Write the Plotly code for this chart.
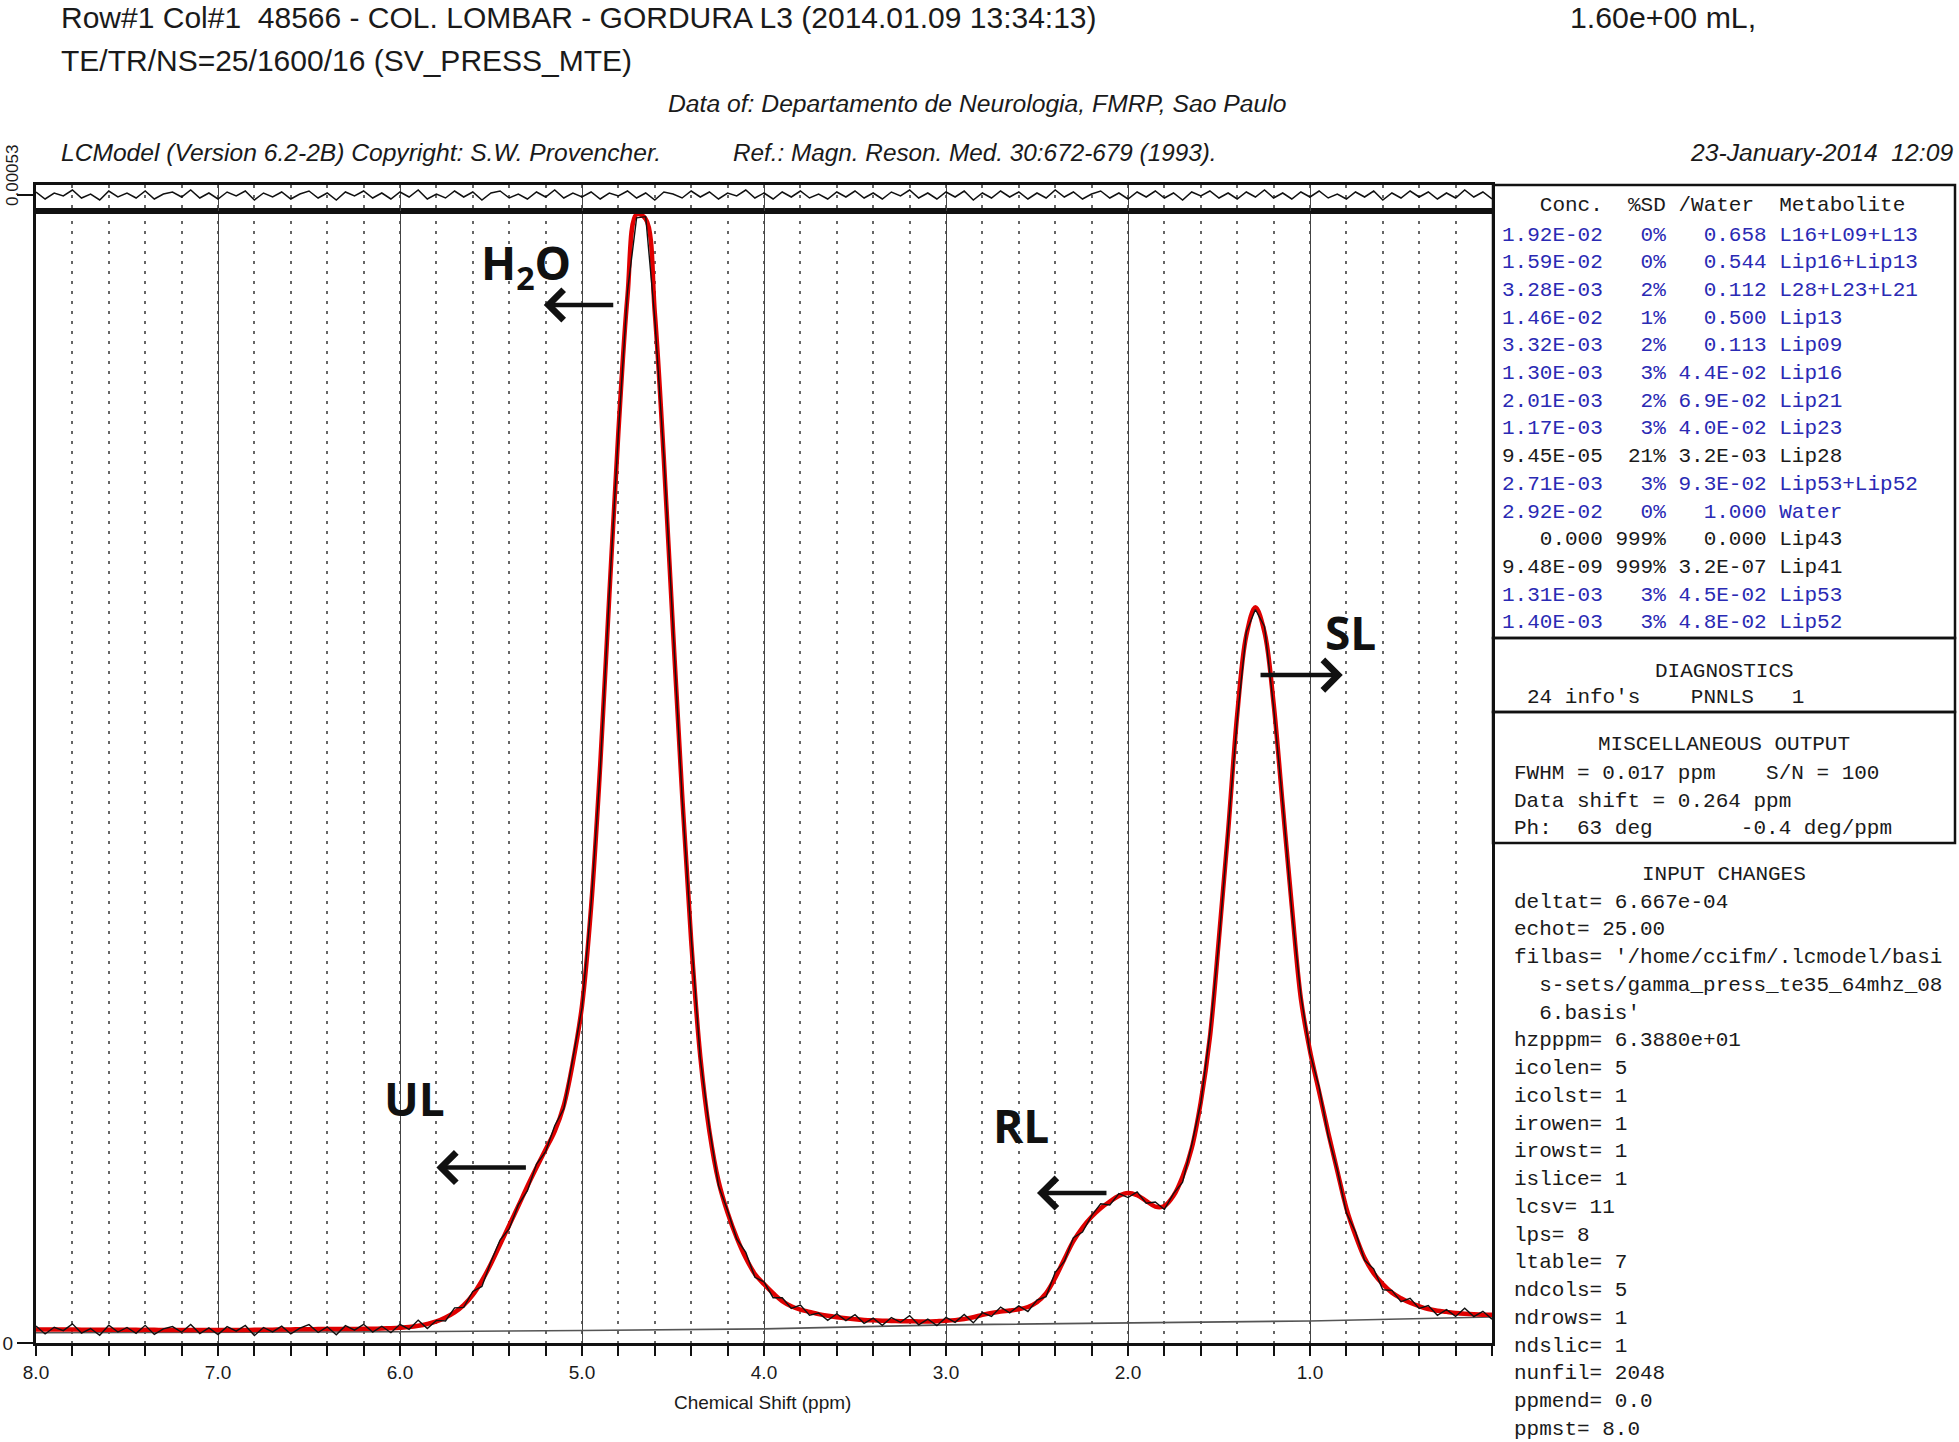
import numpy as np
import plotly.graph_objects as go

# ---------------- data ----------------
# fitted spectrum sampled every 0.05 ppm from 8.00 down to 0.00
fit_vals = [
    0.0120, 0.0120, 0.0119, 0.0119, 0.0119, 0.0118, 0.0118, 0.0118, 0.0117, 0.0117,
    0.0117, 0.0116, 0.0116, 0.0116, 0.0115, 0.0115, 0.0115, 0.0114, 0.0114, 0.0114,
    0.0114, 0.0114, 0.0115, 0.0115, 0.0116, 0.0117, 0.0118, 0.0119, 0.0120, 0.0121,
    0.0122, 0.0123, 0.0123, 0.0123, 0.0123, 0.0124, 0.0125, 0.0126, 0.0128, 0.0131,
    0.0135, 0.0141, 0.0152, 0.0168, 0.0190, 0.0225, 0.0270, 0.0335, 0.0425, 0.0550,
    0.0700, 0.0870, 0.1040, 0.1210, 0.1385, 0.1550, 0.1710, 0.1870, 0.2100, 0.2480,
    0.2980, 0.3850, 0.5100, 0.6600, 0.8050, 0.9250, 0.9970, 0.9930, 0.9100, 0.7800,
    0.6300, 0.4850, 0.3550, 0.2530, 0.1870, 0.1430, 0.1150, 0.0930, 0.0750, 0.0610,
    0.0520, 0.0440, 0.0370, 0.0325, 0.0295, 0.0275, 0.0255, 0.0240, 0.0228, 0.0218,
    0.0210, 0.0204, 0.0200, 0.0197, 0.0195, 0.0193, 0.0192, 0.0191, 0.0191, 0.0193,
    0.0196, 0.0202, 0.0212, 0.0228, 0.0248, 0.0265, 0.0277, 0.0287, 0.0298, 0.0318,
    0.0360, 0.0440, 0.0575, 0.0740, 0.0900, 0.1020, 0.1115, 0.1190, 0.1250, 0.1300,
    0.1325, 0.1305, 0.1255, 0.1205, 0.1210, 0.1300, 0.1470, 0.1720, 0.2130, 0.2700,
    0.3580, 0.4520, 0.5550, 0.6250, 0.6500, 0.6280, 0.5650, 0.4750, 0.3860, 0.3040,
    0.2580, 0.2220, 0.1860, 0.1520, 0.1190, 0.0950, 0.0750, 0.0615, 0.0520, 0.0445,
    0.0395, 0.0355, 0.0325, 0.0300, 0.0285, 0.0275, 0.0265, 0.0258, 0.0253, 0.0250,
    0.0250,
]
# residual (data - fit) on the same grid
resid_vals = [
    0.003, -0.004, 0.002, -0.001, 0.005, -0.003, 0.001, -0.005, 0.004, -0.002,
    0.002, -0.003, 0.004, -0.004, 0.001, 0.003, -0.002, 0.005, -0.003, 0.002,
    -0.004, 0.003, -0.001, 0.004, -0.005, 0.002, -0.002, 0.003, -0.004, 0.001,
    0.004, -0.003, 0.002, -0.005, 0.003, -0.001, 0.004, -0.003, 0.002, -0.004,
    0.003, -0.002, 0.005, -0.004, 0.001, -0.003, 0.004, -0.002, 0.003, -0.005,
    0.002, 0.004, -0.003, 0.001, -0.004, 0.003, -0.002, 0.005, -0.003, 0.002,
    -0.002, 0.003, -0.004, 0.002, -0.001, 0.004, -0.003, 0.002, -0.005, 0.003,
    0.001, -0.003, 0.004, -0.002, 0.003, -0.004, 0.002, -0.001, 0.005, -0.003,
    0.002, -0.004, 0.003, -0.002, 0.004, -0.003, 0.001, -0.004, 0.003, -0.002,
    0.004, -0.003, 0.002, -0.004, 0.003, -0.001, 0.005, -0.003, 0.002, -0.004,
    0.003, -0.002, 0.004, -0.005, 0.002, -0.003, 0.004, -0.002, 0.003, -0.004,
    0.002, -0.003, 0.005, -0.002, 0.003, -0.004, 0.001, 0.004, -0.003, 0.002,
    -0.004, 0.003, -0.002, 0.004, -0.003, 0.002, -0.005, 0.003, -0.001, 0.004,
    -0.003, 0.002, -0.004, 0.003, -0.002, 0.005, -0.003, 0.002, -0.004, 0.003,
    -0.002, 0.004, -0.003, 0.001, -0.004, 0.003, -0.002, 0.004, -0.005, 0.002,
    -0.003, 0.004, -0.002, 0.003, -0.004, 0.002, -0.003, 0.005, -0.002, 0.003,
    -0.004,
]
baseline_ppm = [8.0, 7.0, 6.0, 5.0, 4.0, 3.0, 2.0, 1.0, 0.0]
baseline_vals = [0.0090, 0.0093, 0.0100, 0.0110, 0.0125, 0.0160, 0.0180, 0.0195, 0.0230]

ppm = np.linspace(8.0, 0.0, len(fit_vals))
fit = np.array(fit_vals)
resid = np.array(resid_vals)
data = fit + resid

x_tick_vals = [8, 7, 6, 5, 4, 3, 2, 1]
x_tick_text = ["8.0", "7.0", "6.0", "5.0", "4.0", "3.0", "2.0", "1.0"]

conc = ["1.92E-02", "1.59E-02", "3.28E-03", "1.46E-02", "3.32E-03", "1.30E-03", "2.01E-03",
        "1.17E-03", "9.45E-05", "2.71E-03", "2.92E-02", "0.000", "9.48E-09", "1.31E-03", "1.40E-03"]
sd_pct = [0, 0, 2, 1, 2, 3, 2, 3, 21, 3, 0, 999, 999, 3, 3]
ratio = ["0.658", "0.544", "0.112", "0.500", "0.113", "4.4E-02", "6.9E-02", "4.0E-02",
         "3.2E-03", "9.3E-02", "1.000", "0.000", "3.2E-07", "4.5E-02", "4.8E-02"]
metab = ["L16+L09+L13", "Lip16+Lip13", "L28+L23+L21", "Lip13", "Lip09", "Lip16", "Lip21",
         "Lip23", "Lip28", "Lip53+Lip52", "Water", "Lip43", "Lip41", "Lip53", "Lip52"]

input_lines = ["deltat= 6.667e-04", "echot= 25.00", "filbas= '/home/ccifm/.lcmodel/basi",
               "  s-sets/gamma_press_te35_64mhz_08", "  6.basis'", "hzpppm= 6.3880e+01",
               "icolen= 5", "icolst= 1", "irowen= 1", "irowst= 1", "islice= 1", "lcsv= 11",
               "lps= 8", "ltable= 7", "ndcols= 5", "ndrows= 1", "ndslic= 1", "nunfil= 2048",
               "ppmend= 0.0", "ppmst= 8.0"]

# ---------------- layout helpers ----------------
W, H = 1959, 1442
def px(x):
    return x / W
def py(y):
    return 1 - y / H

NARROW = "Liberation Sans Narrow, Liberation Sans, Arial Narrow, Arial, sans-serif"
MONO = "Liberation Mono, Courier New, monospace"
LBL = "Open Sans, Lato, sans-serif"
BLUE = "#2a2ab4"
INK = "#1a1a1a"

def nb(s):
    return s.replace(" ", "\u00a0")

fig = go.Figure()

fig.add_trace(go.Scatter(x=ppm, y=resid, xaxis="x2", yaxis="y2", mode="lines",
                         line=dict(color="#111", width=1.5), hoverinfo="skip"))
fig.add_trace(go.Scatter(x=baseline_ppm, y=baseline_vals, mode="lines",
                         line=dict(color="#555", width=1.6), hoverinfo="skip"))
fig.add_trace(go.Scatter(x=ppm, y=fit, mode="lines",
                         line=dict(color="#e00000", width=4.5, shape="spline"), hoverinfo="skip"))
fig.add_trace(go.Scatter(x=ppm, y=data, mode="lines",
                         line=dict(color="#111", width=1.4), hoverinfo="skip"))

grid_minor = dict(tickmode="linear", tick0=0, dtick=0.2, ticks="outside", ticklen=10,
                  tickwidth=1.8, tickcolor="#111", showgrid=True, griddash="3px,7px",
                  gridcolor="#666", gridwidth=1.6)

fig.update_layout(
    width=W, height=H, margin=dict(l=0, r=0, t=0, b=0, pad=0, autoexpand=False),
    paper_bgcolor="white", plot_bgcolor="white", showlegend=False,
    xaxis=dict(domain=[px(36), px(1492)], range=[8, 0], anchor="y", automargin=False,
               tickmode="array", tickvals=x_tick_vals, ticktext=x_tick_text,
               ticks="outside", ticklen=10, tickwidth=2, tickcolor="#111",
               tickfont=dict(family=NARROW, size=19, color=INK),
               showline=True, linewidth=3, linecolor="#111", mirror=True,
               showgrid=True, gridcolor="#444", gridwidth=1.2, zeroline=False,
               minor=grid_minor),
    yaxis=dict(domain=[py(1343), py(211)], range=[0, 1.0], anchor="x", automargin=False,
               tickmode="array", tickvals=[0], ticktext=["0"],
               ticks="outside", ticklen=16, tickwidth=2, tickcolor="#111",
               tickfont=dict(family=NARROW, size=19, color=INK),
               showline=True, linewidth=3, linecolor="#111", mirror=True,
               showgrid=False, zeroline=False),
    xaxis2=dict(domain=[px(36), px(1492)], range=[8, 0], anchor="y2", matches="x",
                automargin=False, showticklabels=False, ticks="",
                showline=True, linewidth=3, linecolor="#111", mirror=True,
                showgrid=True, gridcolor="#444", gridwidth=1.2, zeroline=False,
                tickmode="array", tickvals=x_tick_vals,
                minor=dict(tickmode="linear", tick0=0, dtick=0.2, ticks="", showgrid=True,
                           griddash="3px,7px", gridcolor="#666", gridwidth=1.6)),
    yaxis2=dict(domain=[py(211), py(185)], range=[-0.016, 0.010], anchor="x2",
                automargin=False, tickmode="array", tickvals=[0], showticklabels=False,
                ticks="outside", ticklen=16, tickwidth=2, tickcolor="#111",
                showline=True, linewidth=3, linecolor="#111", mirror=True,
                showgrid=False, zeroline=False),
)

ann = []
def text(x, y, s, size, family=NARROW, color=INK, xanchor="left", **kw):
    ann.append(dict(x=px(x), y=py(y), xref="paper", yref="paper", text=s, showarrow=False,
                    xanchor=xanchor, yanchor="middle",
                    font=dict(family=family, size=size, color=color), **kw))

# header
text(59, 18, "Row#1 Col#1  48566 - COL. LOMBAR - GORDURA L3 (2014.01.09 13:34:13)", 30.0)
text(1568, 18, "1.60e+00 mL,", 30.3)
text(59, 61, "TE/TR/NS=25/1600/16 (SV_PRESS_MTE)", 30.0)
text(977, 104, "<i>Data of: Departamento de Neurologia, FMRP, Sao Paulo</i>", 24.7, xanchor="center")
text(59, 153, "<i>LCModel (Version 6.2-2B) Copyright: S.W. Provencher.</i>", 24.6)
text(731, 153, "<i>Ref.: Magn. Reson. Med. 30:672-679 (1993).</i>", 24.3)
text(1955, 153, "<i>23-January-2014  12:09</i>", 24.7, xanchor="right")
text(762, 1402, "Chemical Shift (ppm)", 19, xanchor="center")
ann.append(dict(x=px(13), y=py(176), xref="paper", yref="paper", text="0.00053",
                showarrow=False, textangle=-90, xanchor="center", yanchor="middle",
                font=dict(family=NARROW, size=17, color=INK)))

# concentration table
text(1500, 206, nb("   Conc.  %SD /Water  Metabolite"), 21, family=MONO)
for i in range(len(conc)):
    row = f"{conc[i]:>8}{str(sd_pct[i]) + '%':>5}{ratio[i]:>8} {metab[i]}"
    col = INK if sd_pct[i] > 20 else BLUE
    text(1500, 235 + 27.7 * i, nb(row), 21, family=MONO, color=col)

text(1724, 671, "DIAGNOSTICS", 21, family=MONO, xanchor="center")
text(1525, 697, nb("24 info's    PNNLS   1"), 21, family=MONO)
text(1724, 744, "MISCELLANEOUS OUTPUT", 21, family=MONO, xanchor="center")
text(1512, 773, nb("FWHM = 0.017 ppm    S/N = 100"), 21, family=MONO)
text(1512, 801, nb("Data shift = 0.264 ppm"), 21, family=MONO)
text(1512, 828, nb("Ph:  63 deg       -0.4 deg/ppm"), 21, family=MONO)
text(1724, 875, "INPUT CHANGES", 21, family=MONO, xanchor="center")
for i, s in enumerate(input_lines):
    text(1512, 902 + 27.75 * i, nb(s), 21, family=MONO)

# peak labels and arrows (data coordinates)
def lab(x, y, s, size=46):
    ann.append(dict(x=x, y=y, xref="x", yref="y", text=s, showarrow=False,
                    xanchor="center", yanchor="middle",
                    font=dict(family=LBL, size=size, color="#111")))
def arrow(x_tip, x_tail, y):
    ann.append(dict(x=x_tip, y=y, ax=x_tail, ay=y, xref="x", yref="y", axref="x", ayref="y",
                    text="", showarrow=True, arrowhead=4, arrowsize=1.3, arrowwidth=4.5,
                    arrowcolor="#111"))

lab(5.31, 0.952, "<b>H<sub>2</sub>O</b>")
arrow(5.21, 4.82, 0.917)
lab(5.92, 0.216, "<b>UL</b>")
arrow(5.80, 5.30, 0.155)
lab(2.59, 0.193, "<b>RL</b>")
arrow(2.50, 2.11, 0.1325)
lab(0.78, 0.628, "<b>SL</b>")
arrow(0.82, 1.28, 0.590)

fig.update_layout(annotations=ann)

# right-hand boxes
shapes = []
for (y0, y1) in [(185, 638), (638, 712), (712, 843)]:
    shapes.append(dict(type="rect", xref="paper", yref="paper", x0=px(1493), x1=px(1955),
                       y0=py(y1), y1=py(y0), line=dict(color="#111", width=2.5)))
fig.update_layout(shapes=shapes)

fig.write_html("out.html", config={"displayModeBar": False},
               post_script="document.body.style.margin='0px';document.body.style.overflow='hidden';")
